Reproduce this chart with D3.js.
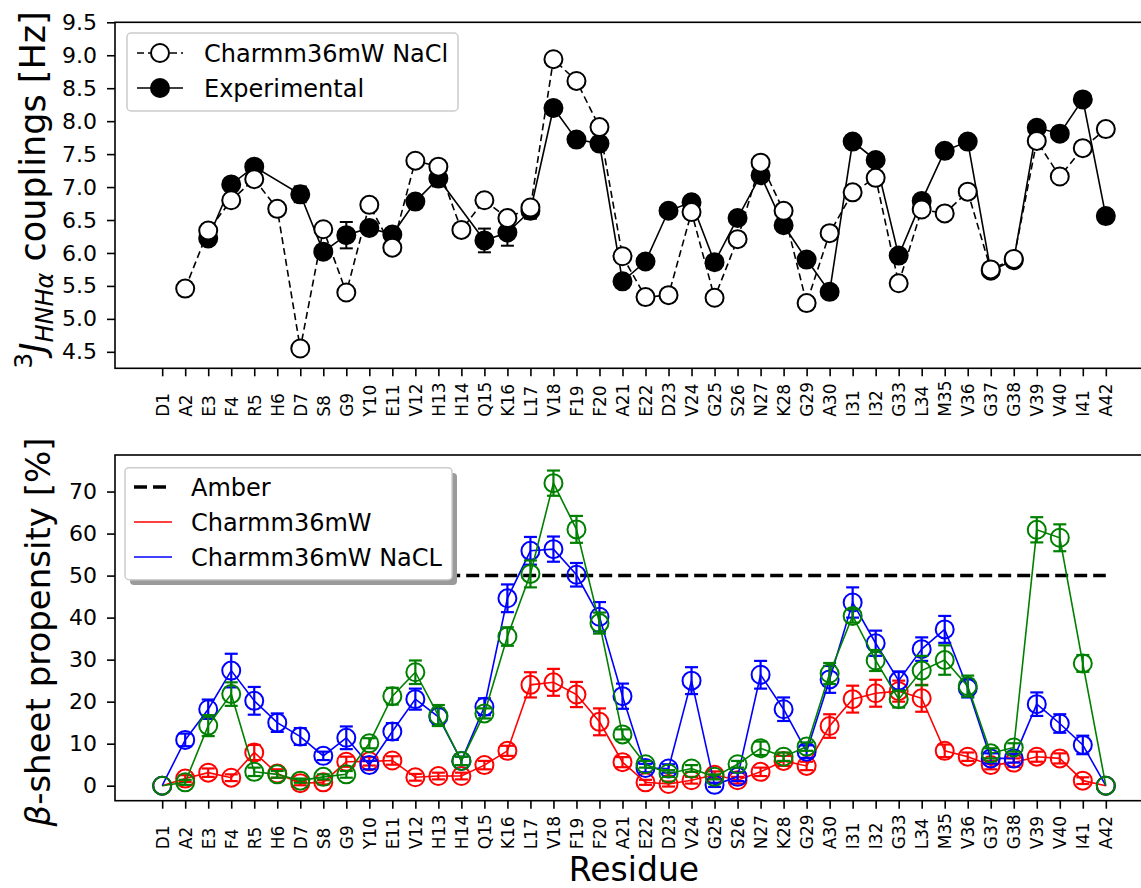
<!DOCTYPE html>
<html>
<head>
<meta charset="utf-8">
<script src="https://cdn.jsdelivr.net/npm/d3@7"></script>
<style>
  body { margin: 0; background: #fff; }
  text { font-family: "DejaVu Sans", sans-serif; }
</style>
</head>
<body>
<svg id="chart" width="1141" height="888"></svg>
<script>
const residues = ["D1","A2","E3","F4","R5","H6","D7","S8","G9","Y10","E11","V12","H13","H14","Q15","K16","L17","V18","F19","F20","A21","E22","D23","V24","G25","S26","N27","K28","G29","A30","I31","I32","G33","L34","M35","V36","G37","G38","V39","V40","I41","A42"];

// top panel: 3J(HN,HA) couplings [Hz]
const jTicks = [4.5, 5.0, 5.5, 6.0, 6.5, 7.0, 7.5, 8.0, 8.5, 9.0, 9.5];
const jNaCl = [null,5.46,6.34,6.80,7.12,6.67,4.55,6.36,5.40,6.73,6.08,7.40,7.31,6.35,6.80,6.53,6.69,8.94,8.61,7.91,5.95,5.33,5.36,6.62,5.32,6.21,7.37,6.64,5.24,6.30,6.92,7.14,5.54,6.66,6.60,6.93,5.75,5.91,7.70,7.16,7.59,7.88];
const jNaClErr = [null,0.1,0.1,0.06,0.06,0.06,0.06,0.06,0.06,0.06,0.06,0.06,0.06,0.06,0.06,0.06,0.06,0.06,0.06,0.06,0.06,0.06,0.06,0.06,0.06,0.06,0.06,0.06,0.06,0.06,0.06,0.06,0.06,0.06,0.06,0.06,0.06,0.06,0.06,0.06,0.06,0.06];
const jExp = [null,null,6.22,7.04,7.31,null,6.89,6.02,6.27,6.38,6.28,6.78,7.13,null,6.19,6.31,6.64,8.20,7.72,7.66,5.57,5.87,6.64,6.77,5.86,6.53,7.18,6.42,5.90,5.41,7.69,7.41,5.96,6.79,7.55,7.69,5.73,5.89,7.90,7.81,8.33,6.56];
const jExpErr = [null,null,0.1,0.05,0.05,null,0.12,0.1,0.2,0.08,0.08,0.08,0.12,null,0.18,0.2,0.12,0.1,0.06,0.06,0.06,0.06,0.06,0.06,0.06,0.06,0.06,0.06,0.06,0.06,0.06,0.06,0.08,0.06,0.06,0.06,0.06,0.06,0.06,0.06,0.06,0.06];

// bottom panel: beta-sheet propensity [%]
const bTicks = [0, 10, 20, 30, 40, 50, 60, 70];
const amber = 50;
const c36 = [0,1.7,3.1,1.9,7.9,2.9,0.6,0.8,5.7,5.8,6.0,2.0,2.3,2.3,4.9,8.3,24.0,24.6,21.7,15.2,5.6,0.8,0.4,1.3,2.6,1.3,3.3,5.9,4.7,14.2,20.6,22.0,22.5,20.8,8.3,6.9,4.9,5.5,6.9,6.5,1.2,0];
const c36Err = [0,0.8,1,0.8,1.8,1,0.5,0.5,1.2,1,1,0.8,0.8,0.8,1,1.2,3,3.2,3,3.2,1.2,0.6,0.6,0.8,0.8,0.8,1,1.2,1,2.8,3.2,3.2,2.5,3.2,1.5,1,1,1,1.2,1.2,0.8,0];
const c36NaCl = [0,10.9,18.2,27.4,20.2,15.0,11.7,7.1,11.4,4.9,12.9,20.6,16.4,5.9,18.8,44.6,55.9,56.3,50.2,40.2,21.3,4.2,4.1,25.0,0.2,2.1,26.4,18.2,8.1,25.3,43.6,33.9,25.0,32.5,37.2,23.2,6.5,6.5,19.4,14.8,9.7,0];
const c36NaClErr = [0,1.5,2.3,4,3.3,2.2,2,1,2.7,1,2,2.5,2,1,2,3.3,3.3,3,2.8,3.5,3,1,1,3.2,0.5,1,3.3,2.8,1.5,3.2,3.6,3,2.2,2.8,3.2,2.2,1.2,1,2.8,2.2,2.2,0];
const greenRun = [0,0.8,14.3,21.8,3.3,2.7,1.2,2.1,2.7,10.1,21.3,27.0,16.7,5.9,17.2,35.5,50.4,72.0,61.0,38.7,12.2,5.1,2.9,4.1,2.1,5.1,8.9,6.9,9.3,26.7,40.4,29.8,20.6,27.4,29.9,23.7,7.7,9.1,60.9,59.0,29.1,0];
const greenRunErr = [0,0.6,2.5,2.8,1,0.8,0.5,0.6,0.8,1.2,2,2.8,2.5,1,1.2,2.2,3.2,3,3.2,2.5,1.2,0.8,0.8,0.8,0.6,0.8,1.6,1,1,2.5,1.6,2.5,2,3.5,3.5,2.5,1.2,1,3,3.2,2,0];

const svg = d3.select("#chart");
svg.append("rect").attr("width", 1141).attr("height", 888).attr("fill", "#fff");

const left = 115, right = 1153;
const top1 = 22.3, bot1 = 368.3;
const top2 = 455, bot2 = 800.7;

const x = d3.scaleLinear().domain([-2.05, 43.05]).range([left, right]);
const yJ = d3.scaleLinear().domain([4.25, 9.5]).range([bot1, top1]);
const yB = d3.scaleLinear().domain([-3.57, 78.7]).range([bot2, top2]);

const points = (vals, errs) => vals.map((v, i) => ({ i, v, e: errs[i] })).filter(d => d.v != null);

function drawAxes(yScale, ticks, fmt, axTop, axBot) {
  const gy = svg.append("g")
    .attr("transform", `translate(${left},0)`)
    .call(d3.axisLeft(yScale).tickValues(ticks).tickFormat(fmt).tickSize(8).tickPadding(10));
  gy.select(".domain").remove();
  gy.selectAll("line").attr("stroke-width", 1.6);
  gy.selectAll("text").attr("font-size", 22).attr("font-family", "DejaVu Sans").attr("fill", "#000");

  const gx = svg.append("g")
    .attr("transform", `translate(0,${axBot})`)
    .call(d3.axisBottom(x).tickValues(d3.range(residues.length)).tickFormat(i => residues[i]).tickSize(8));
  gx.select(".domain").remove();
  gx.selectAll("line").attr("stroke-width", 1.6);
  gx.selectAll("text")
    .attr("font-size", 17).attr("font-family", "DejaVu Sans").attr("fill", "#000")
    .attr("x", 0).attr("y", 0).attr("dy", "0.36em")
    .attr("text-anchor", "start")
    .attr("transform", "translate(0,48.5) rotate(-90)");

  svg.append("rect")
    .attr("x", left).attr("y", axTop)
    .attr("width", right - left).attr("height", axBot - axTop)
    .attr("fill", "none").attr("stroke", "#000").attr("stroke-width", 1.6);
}

function drawSeries(g, data, yScale, opt) {
  const line = d3.line().x(d => x(d.i)).y(d => yScale(d.v));
  g.append("path").datum(data)
    .attr("d", line).attr("fill", "none")
    .attr("stroke", opt.color).attr("stroke-width", opt.lw)
    .attr("stroke-dasharray", opt.dash || null);
  const eb = g.append("g").attr("stroke", opt.color).attr("stroke-width", opt.ew);
  data.filter(d => d.e > 0).forEach(d => {
    const cx = x(d.i), y0 = yScale(d.v - d.e), y1 = yScale(d.v + d.e);
    eb.append("line").attr("x1", cx).attr("x2", cx).attr("y1", y0).attr("y2", y1);
    eb.append("line").attr("x1", cx - 6.5).attr("x2", cx + 6.5).attr("y1", y0).attr("y2", y0);
    eb.append("line").attr("x1", cx - 6.5).attr("x2", cx + 6.5).attr("y1", y1).attr("y2", y1);
  });
  g.append("g").selectAll("circle").data(data).join("circle")
    .attr("cx", d => x(d.i)).attr("cy", d => yScale(d.v))
    .attr("r", opt.r)
    .attr("fill", opt.fill).attr("stroke", opt.color).attr("stroke-width", 2);
}

// ---- top panel ----
drawAxes(yJ, jTicks, d3.format(".1f"), top1, bot1);
const gTop = svg.append("g");
drawSeries(gTop, points(jExp, jExpErr), yJ, { color: "#000", lw: 1.6, ew: 2, r: 9, fill: "#000" });
drawSeries(gTop, points(jNaCl, jNaClErr), yJ, { color: "#000", lw: 1.6, ew: 2, r: 9, fill: "#fff", dash: "7,4" });

// top legend
const lg1 = svg.append("g");
lg1.append("rect").attr("x", 127).attr("y", 33).attr("width", 331).attr("height", 78).attr("rx", 4)
  .attr("fill", "#fff").attr("fill-opacity", 0.8).attr("stroke", "#ccc").attr("stroke-width", 1.5);
[[53, "Charmm36mW NaCl", "#fff", "7,4"], [88, "Experimental", "#000", null]].forEach(([ly, label, fill, dash]) => {
  lg1.append("line").attr("x1", 137).attr("x2", 183).attr("y1", ly).attr("y2", ly)
    .attr("stroke", "#000").attr("stroke-width", 1.6).attr("stroke-dasharray", dash);
  lg1.append("circle").attr("cx", 160).attr("cy", ly).attr("r", 9)
    .attr("fill", fill).attr("stroke", "#000").attr("stroke-width", 2);
  lg1.append("text").attr("x", 204).attr("y", ly).attr("dy", "0.36em")
    .attr("font-size", 24).text(label);
});

// top y label: 3J_HNHα couplings [Hz]
const yl1 = svg.append("text").attr("transform", "translate(45,190) rotate(-90)")
  .attr("text-anchor", "middle").attr("font-size", 35);
yl1.append("tspan").attr("font-size", 25).attr("dy", -13).text("3");
yl1.append("tspan").attr("font-style", "italic").attr("dy", 13).text("J");
yl1.append("tspan").attr("font-style", "italic").attr("font-size", 24).attr("dy", 8).text("HNHα");
yl1.append("tspan").attr("dy", -8).text(" couplings [Hz]");

// ---- bottom panel ----
drawAxes(yB, bTicks, d3.format("d"), top2, bot2);
const gBot = svg.append("g");
gBot.append("line")
  .attr("x1", x(0)).attr("x2", x(residues.length - 1))
  .attr("y1", yB(amber)).attr("y2", yB(amber))
  .attr("stroke", "#000").attr("stroke-width", 3.5).attr("stroke-dasharray", "13,6");
drawSeries(gBot, points(c36, c36Err), yB, { color: "#ff0000", lw: 1.6, ew: 2.2, r: 9, fill: "none" });
drawSeries(gBot, points(c36NaCl, c36NaClErr), yB, { color: "#0000ff", lw: 1.6, ew: 2.2, r: 9, fill: "none" });
drawSeries(gBot, points(greenRun, greenRunErr), yB, { color: "#008000", lw: 1.6, ew: 2.2, r: 9, fill: "none" });

// bottom legend with shadow
const lg2 = svg.append("g");
lg2.append("rect").attr("x", 130).attr("y", 473).attr("width", 327).attr("height", 112).attr("rx", 4).attr("fill", "#9a9a9a");
lg2.append("rect").attr("x", 125).attr("y", 467.7).attr("width", 327).attr("height", 112).attr("rx", 4)
  .attr("fill", "#fff").attr("stroke", "#ccc").attr("stroke-width", 1.5);
[[487, "Amber", "#000", 3.5, "13,6"], [522, "Charmm36mW", "#ff0000", 1.6, null], [557, "Charmm36mW NaCL", "#0000ff", 1.6, null]]
  .forEach(([ly, label, color, w, dash]) => {
    lg2.append("line").attr("x1", 134).attr("x2", 172).attr("y1", ly).attr("y2", ly)
      .attr("stroke", color).attr("stroke-width", w).attr("stroke-dasharray", dash);
    lg2.append("text").attr("x", 191).attr("y", ly).attr("dy", "0.36em")
      .attr("font-size", 24).text(label);
  });

// bottom y label and x label
const yl2 = svg.append("text").attr("transform", "translate(50,632) rotate(-90)")
  .attr("text-anchor", "middle").attr("font-size", 34);
yl2.append("tspan").attr("font-style", "italic").text("β");
yl2.append("tspan").text("-sheet propensity [%]");

svg.append("text").attr("x", 634).attr("y", 881).attr("text-anchor", "middle")
  .attr("font-size", 33).text("Residue");
</script>
</body>
</html>
